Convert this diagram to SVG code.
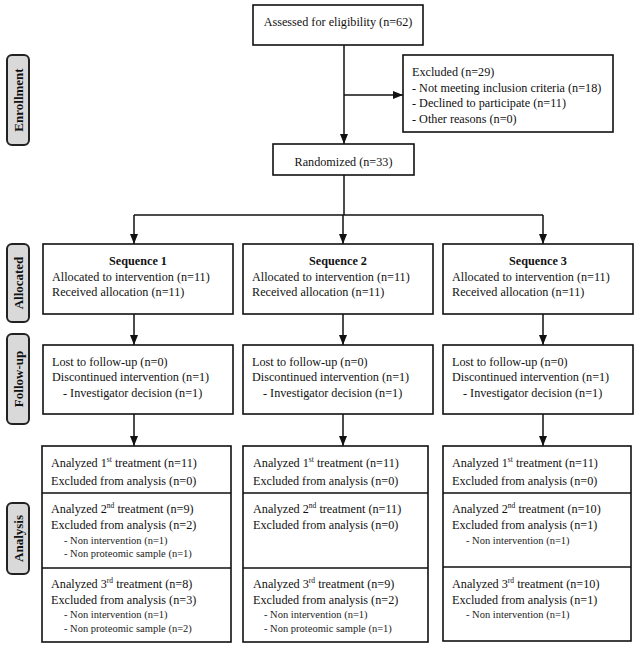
<svg xmlns="http://www.w3.org/2000/svg" width="640" height="646" viewBox="0 0 640 646">
<defs>
<style>
.box{fill:#fff;stroke:#111;stroke-width:1.6}
.lab{fill:#d9d9d9;stroke:#222;stroke-width:2}
.t{font-family:"Liberation Serif","Times New Roman",serif;font-size:12.2px;fill:#111}
.b{font-weight:bold}
.s{font-size:10.5px;fill:#222}
.lt{font-family:"Liberation Serif","Times New Roman",serif;font-size:13px;font-weight:bold;fill:#111}
.ln{fill:none;stroke:#111;stroke-width:1.5}
</style>
<marker id="ah" markerUnits="userSpaceOnUse" markerWidth="10" markerHeight="10" viewBox="0 0 10 10" refX="10" refY="5" orient="auto">
<path d="M0,1 L10,5 L0,9 Z" fill="#111"/>
</marker>
</defs>

<g id="labels">
<g id="lab-enrollment"><rect class="lab" x="7" y="55" width="22" height="90" rx="5"/><text class="lt" transform="translate(22.5,100) rotate(-90)" text-anchor="middle">Enrollment</text></g>
<g id="lab-allocated"><rect class="lab" x="7" y="244" width="22" height="78" rx="5"/><text class="lt" transform="translate(22.5,283) rotate(-90)" text-anchor="middle">Allocated</text></g>
<g id="lab-followup"><rect class="lab" x="7" y="334" width="22" height="90" rx="5"/><text class="lt" transform="translate(22.5,379) rotate(-90)" text-anchor="middle">Follow-up</text></g>
<g id="lab-analysis"><rect class="lab" x="7" y="503" width="22" height="71" rx="5"/><text class="lt" transform="translate(22.5,538.5) rotate(-90)" text-anchor="middle">Analysis</text></g>
</g>

<g id="connectors">
<path class="ln" d="M344,45 V144" marker-end="url(#ah)"/>
<path class="ln" d="M344,95 H403" marker-end="url(#ah)"/>
<path class="ln" d="M344,175 V215"/>
<path class="ln" d="M134,215 H543"/>
<path class="ln" d="M134,215 V244" marker-end="url(#ah)"/>
<path class="ln" d="M343,215 V244" marker-end="url(#ah)"/>
<path class="ln" d="M543,215 V244" marker-end="url(#ah)"/>
<path class="ln" d="M134,314 V345" marker-end="url(#ah)"/>
<path class="ln" d="M343,314 V345" marker-end="url(#ah)"/>
<path class="ln" d="M543,314 V345" marker-end="url(#ah)"/>
<path class="ln" d="M134,414 V446" marker-end="url(#ah)"/>
<path class="ln" d="M343,414 V446" marker-end="url(#ah)"/>
<path class="ln" d="M543,414 V446" marker-end="url(#ah)"/>
</g>

<g id="assessed"><rect class="box" x="253" y="5" width="170" height="40"/><text class="t" x="338" y="26" text-anchor="middle">Assessed for eligibility (n=62)</text></g>

<g id="excluded"><rect class="box" x="403" y="55" width="210" height="77"/>
<text class="t" x="412" y="76">Excluded (n=29)</text>
<text class="t" x="412" y="92">- Not meeting inclusion criteria (n=18)</text>
<text class="t" x="412" y="107">- Declined to participate (n=11)</text>
<text class="t" x="412" y="123">- Other reasons (n=0)</text></g>

<g id="randomized"><rect class="box" x="273" y="144" width="141" height="31"/><text class="t" x="343.5" y="166" text-anchor="middle">Randomized (n=33)</text></g>

<g id="alloc1"><rect class="box" x="43" y="244" width="190" height="70"/>
<text class="t b" x="138" y="265" text-anchor="middle">Sequence 1</text>
<text class="t" x="52" y="281">Allocated to intervention (n=11)</text>
<text class="t" x="52" y="296">Received allocation (n=11)</text></g>
<g id="alloc2"><rect class="box" x="243" y="244" width="190" height="70"/>
<text class="t b" x="338" y="265" text-anchor="middle">Sequence 2</text>
<text class="t" x="252" y="281">Allocated to intervention (n=11)</text>
<text class="t" x="252" y="296">Received allocation (n=11)</text></g>
<g id="alloc3"><rect class="box" x="443" y="244" width="190" height="70"/>
<text class="t b" x="538" y="265" text-anchor="middle">Sequence 3</text>
<text class="t" x="452" y="281">Allocated to intervention (n=11)</text>
<text class="t" x="452" y="296">Received allocation (n=11)</text></g>

<g id="follow1"><rect class="box" x="43" y="345" width="190" height="69"/>
<text class="t" x="52" y="366">Lost to follow-up (n=0)</text>
<text class="t" x="52" y="381">Discontinued intervention (n=1)</text>
<text class="t" x="63" y="397">-  Investigator decision (n=1)</text></g>
<g id="follow2"><rect class="box" x="243" y="345" width="190" height="69"/>
<text class="t" x="252" y="366">Lost to follow-up (n=0)</text>
<text class="t" x="252" y="381">Discontinued intervention (n=1)</text>
<text class="t" x="263" y="397">-  Investigator decision (n=1)</text></g>
<g id="follow3"><rect class="box" x="443" y="345" width="190" height="69"/>
<text class="t" x="452" y="366">Lost to follow-up (n=0)</text>
<text class="t" x="452" y="381">Discontinued intervention (n=1)</text>
<text class="t" x="463" y="397">-  Investigator decision (n=1)</text></g>

<g id="analysis1"><rect class="box" x="42" y="446" width="189" height="196"/>
<path class="ln" d="M42,493 H231 M42,568 H231"/>
<text class="t" x="51" y="467">Analyzed 1<tspan font-size="7.5" dy="-5">st</tspan><tspan dy="5"> treatment (n=11)</tspan></text>
<text class="t" x="51" y="485">Excluded from analysis (n=0)</text>
<text class="t" x="51" y="513">Analyzed 2<tspan font-size="7.5" dy="-5">nd</tspan><tspan dy="5"> treatment (n=9)</tspan></text>
<text class="t" x="51" y="529">Excluded from analysis (n=2)</text>
<text class="t s" x="64" y="544">- Non intervention (n=1)</text>
<text class="t s" x="64" y="557">- Non proteomic sample (n=1)</text>
<text class="t" x="51" y="588">Analyzed 3<tspan font-size="7.5" dy="-5">rd</tspan><tspan dy="5"> treatment (n=8)</tspan></text>
<text class="t" x="51" y="604">Excluded from analysis (n=3)</text>
<text class="t s" x="64" y="618">- Non intervention (n=1)</text>
<text class="t s" x="64" y="632">- Non proteomic sample (n=2)</text></g>

<g id="analysis2"><rect class="box" x="243" y="446" width="185" height="196"/>
<path class="ln" d="M243,493 H428 M243,568 H428"/>
<text class="t" x="253" y="467">Analyzed 1<tspan font-size="7.5" dy="-5">st</tspan><tspan dy="5"> treatment (n=11)</tspan></text>
<text class="t" x="253" y="485">Excluded from analysis (n=0)</text>
<text class="t" x="253" y="513">Analyzed 2<tspan font-size="7.5" dy="-5">nd</tspan><tspan dy="5"> treatment (n=11)</tspan></text>
<text class="t" x="253" y="529">Excluded from analysis (n=0)</text>
<text class="t" x="253" y="588">Analyzed 3<tspan font-size="7.5" dy="-5">rd</tspan><tspan dy="5"> treatment (n=9)</tspan></text>
<text class="t" x="253" y="604">Excluded from analysis (n=2)</text>
<text class="t s" x="264" y="618">- Non intervention (n=1)</text>
<text class="t s" x="264" y="632">- Non proteomic sample (n=1)</text></g>

<g id="analysis3"><rect class="box" x="443" y="446" width="188" height="195"/>
<path class="ln" d="M443,493 H631 M443,567 H631"/>
<text class="t" x="452" y="467">Analyzed 1<tspan font-size="7.5" dy="-5">st</tspan><tspan dy="5"> treatment (n=11)</tspan></text>
<text class="t" x="452" y="485">Excluded from analysis (n=0)</text>
<text class="t" x="452" y="513">Analyzed 2<tspan font-size="7.5" dy="-5">nd</tspan><tspan dy="5"> treatment (n=10)</tspan></text>
<text class="t" x="452" y="529">Excluded from analysis (n=1)</text>
<text class="t s" x="466" y="544">- Non intervention (n=1)</text>
<text class="t" x="452" y="588">Analyzed 3<tspan font-size="7.5" dy="-5">rd</tspan><tspan dy="5"> treatment (n=10)</tspan></text>
<text class="t" x="452" y="604">Excluded from analysis (n=1)</text>
<text class="t s" x="466" y="618">- Non intervention (n=1)</text></g>
</svg>
